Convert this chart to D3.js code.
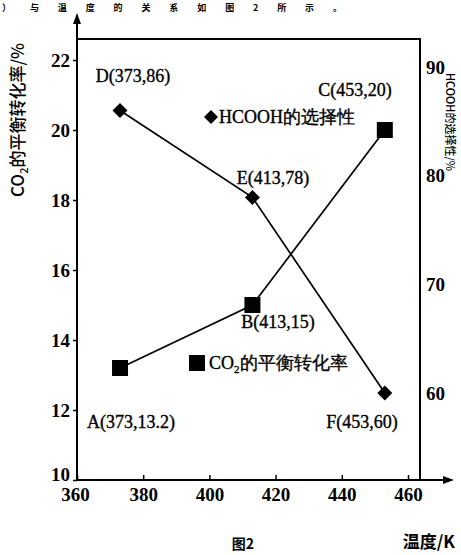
<!DOCTYPE html>
<html>
<head>
<meta charset="utf-8">
<script src="https://cdn.jsdelivr.net/npm/d3@7/dist/d3.min.js"></script>
<style>
  html, body { margin: 0; padding: 0; background: #fff; }
  svg { display: block; }
  .serif { font-family: "Liberation Serif", "DejaVu Serif", serif; }
  .sans { font-family: "Noto Sans CJK SC", "Noto Sans", sans-serif; }
</style>
</head>
<body>
<script>
// Temperatures (K) of the three measured points
const temperatures = [373, 413, 453];
// CO2 equilibrium conversion (%), left axis — points A, B, C
const co2Conversion = [13.2, 15, 20];
const co2Names = ["A", "B", "C"];
// HCOOH selectivity (%), right axis — points D, E, F
const hcoohSelectivity = [86, 78, 60];
const hcoohNames = ["D", "E", "F"];
// Axis ticks
const xTicks = [360, 380, 400, 420, 440, 460];
const leftTicks = [10, 12, 14, 16, 18, 20, 22];
const rightTicks = [60, 70, 80, 90];

const W = 461, H = 555;
const svg = d3.select("body").append("svg").attr("width", W).attr("height", H);

const x = d3.scaleLinear().domain([360, 460]).range([77, 408]);
const yL = d3.scaleLinear().domain([10, 22]).range([480, 60]);
const yR = d3.scaleLinear().domain([60, 90]).range([393, 67]);

const frameTop = 39, frameRight = 420, base = 480, left = 77;

// sentence line above the figure
svg.append("text").attr("class", "sans")
  .attr("x", 2).attr("y", 11)
  .attr("font-size", 9).attr("font-weight", 700)
  .attr("textLength", 340).attr("lengthAdjust", "spacing")
  .text("）与温度的关系如图2所示。");

// frame: top and right edges
svg.append("path")
  .attr("d", `M${left},${frameTop}H${frameRight}V${base}`)
  .attr("fill", "none").attr("stroke", "#000").attr("stroke-width", 2);

// left axis with arrow
svg.append("line").attr("x1", left).attr("x2", left).attr("y1", base).attr("y2", 20)
  .attr("stroke", "#000").attr("stroke-width", 2);
svg.append("path").attr("d", `M${left},13L${left - 4},24L${left + 4},24Z`).attr("fill", "#000");

// bottom axis with arrow
svg.append("line").attr("x1", left).attr("x2", 446).attr("y1", base).attr("y2", base)
  .attr("stroke", "#000").attr("stroke-width", 2);
svg.append("path").attr("d", `M454,${base}L443,${base - 4}L443,${base + 4}Z`).attr("fill", "#000");

function styleTicks(g) {
  g.selectAll("text").attr("class", "serif").attr("font-family", null)
    .attr("font-size", 19).attr("font-weight", 700).attr("fill", "#000");
}

// x axis ticks and labels
const gx = svg.append("g").attr("transform", `translate(0,${base})`)
  .call(d3.axisBottom(x).tickValues(xTicks).tickSize(-5).tickPadding(8).tickFormat(d3.format("d")));
gx.select(".domain").remove();
gx.selectAll("line").attr("stroke", "#000").attr("stroke-width", 1.5);
styleTicks(gx);
gx.selectAll(".tick").filter(d => d === 360).select("text").attr("dx", "-0.1em");

// left axis ticks and labels
const gl = svg.append("g").attr("transform", `translate(${left},0)`)
  .call(d3.axisLeft(yL).tickValues(leftTicks).tickSize(4).tickPadding(3).tickFormat(d3.format("d")));
gl.select(".domain").remove();
gl.selectAll("line").attr("stroke", "#000").attr("stroke-width", 1.5);
styleTicks(gl);
gl.selectAll(".tick").filter(d => d === 10).select("text").attr("dy", "0.05em");

// right axis labels (no tick marks)
const gr = svg.append("g").attr("transform", `translate(${frameRight},0)`)
  .call(d3.axisRight(yR).tickValues(rightTicks).tickSize(0).tickPadding(6).tickFormat(d3.format("d")));
gr.select(".domain").remove();
styleTicks(gr);

// axis titles
const yt = svg.append("text").attr("class", "sans")
  .attr("transform", "translate(24,120) rotate(-90)")
  .attr("text-anchor", "middle").attr("font-size", 17).attr("font-weight", 500);
yt.append("tspan").text("CO");
yt.append("tspan").attr("font-size", 11).attr("dy", 4).text("2");
yt.append("tspan").attr("dy", -4).text("的平衡转化率/%");

svg.append("text").attr("class", "sans")
  .attr("transform", "translate(446,122) rotate(90)")
  .attr("text-anchor", "middle").attr("font-size", 11).attr("font-weight", 500)
  .text("HCOOH的选择性/%");

svg.append("text").attr("class", "sans")
  .attr("x", 455).attr("y", 548).attr("text-anchor", "end")
  .attr("font-size", 17).attr("font-weight", 700).text("温度/K");

svg.append("text").attr("class", "sans")
  .attr("x", 243).attr("y", 549).attr("text-anchor", "middle")
  .attr("font-size", 14).attr("font-weight", 700).text("图2");

// series lines
const co2Pts = temperatures.map((t, i) => [x(t), yL(co2Conversion[i])]);
const hcPts = temperatures.map((t, i) => [x(t), yR(hcoohSelectivity[i])]);
const line = d3.line();
svg.append("path").attr("d", line(co2Pts)).attr("fill", "none").attr("stroke", "#000").attr("stroke-width", 1.7);
svg.append("path").attr("d", line(hcPts)).attr("fill", "none").attr("stroke", "#000").attr("stroke-width", 1.7);

// square markers
const sq = 16;
svg.selectAll("rect.co2").data(co2Pts).join("rect")
  .attr("x", d => d[0] - sq / 2).attr("y", d => d[1] - sq / 2)
  .attr("width", sq).attr("height", sq).attr("fill", "#000");

// diamond markers
const dm = 7.5;
svg.selectAll("path.hc").data(hcPts).join("path")
  .attr("d", d => `M${d[0]},${d[1] - dm}L${d[0] + dm},${d[1]}L${d[0]},${d[1] + dm}L${d[0] - dm},${d[1]}Z`)
  .attr("fill", "#000");

// point labels
const labelPos = {
  A: [131, 428], B: [278, 328], C: [355, 96],
  D: [133, 82], E: [273, 184], F: [362, 428]
};
function pointLabel(name, t, v) {
  svg.append("text").attr("class", "serif").attr("font-size", 18).attr("text-anchor", "middle")
    .attr("stroke", "#000").attr("stroke-width", 0.35)
    .attr("x", labelPos[name][0]).attr("y", labelPos[name][1])
    .text(`${name}(${t},${v})`);
}
temperatures.forEach((t, i) => {
  pointLabel(co2Names[i], t, co2Conversion[i]);
  pointLabel(hcoohNames[i], t, hcoohSelectivity[i]);
});

// legend entries
svg.append("path").attr("d", "M211,110L218,117L211,124L204,117Z").attr("fill", "#000");
svg.append("text").attr("class", "serif").attr("x", 219).attr("y", 123)
  .attr("font-size", 18).attr("stroke", "#000").attr("stroke-width", 0.35).text("HCOOH的选择性");

svg.append("rect").attr("x", 189).attr("y", 355).attr("width", 16).attr("height", 16).attr("fill", "#000");
const lt = svg.append("text").attr("class", "serif").attr("x", 209).attr("y", 369)
  .attr("font-size", 18).attr("stroke", "#000").attr("stroke-width", 0.35);
lt.append("tspan").text("CO");
lt.append("tspan").attr("font-size", 11).attr("dy", 4).text("2");
lt.append("tspan").attr("dy", -4).text("的平衡转化率");
</script>
</body>
</html>
